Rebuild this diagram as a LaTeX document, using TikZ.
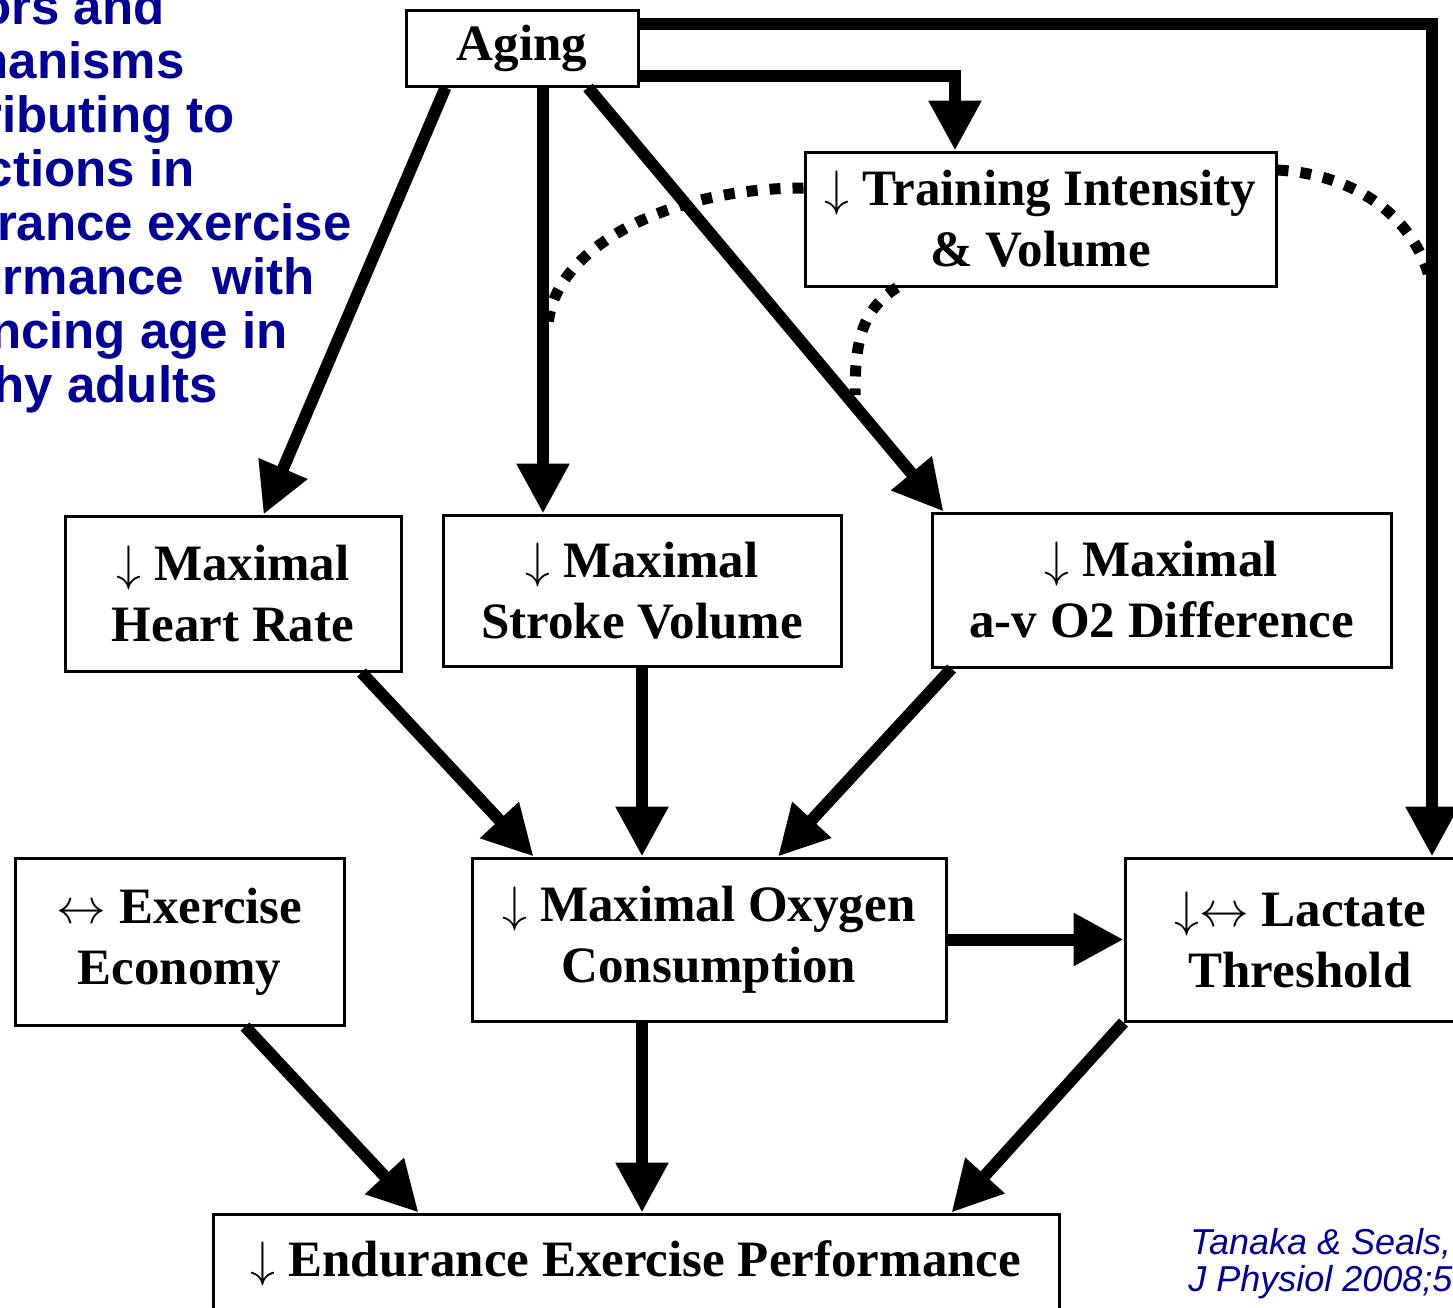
\documentclass[tikz,border=0pt]{standalone}
\usepackage{fontspec}
\setmainfont{Liberation Serif}
\newfontfamily\titlefont{Liberation Sans}
\usetikzlibrary{arrows.meta,positioning}
\definecolor{navyblue}{RGB}{0,0,153}
\newcommand{\arrdn}{$\downarrow$}
\newcommand{\arrlr}{$\leftrightarrow$}

\begin{document}
\begin{tikzpicture}[x=0.5pt, y=-0.5pt,
    box/.style={draw, line width=1.5pt, align=center, inner sep=0pt,
      font=\bfseries\fontsize{25.5}{30.5}\selectfont},
    flow/.style={line width=6pt, -{Triangle[length=25pt,width=25pt]}},
    dotline/.style={line width=5.5pt, dash pattern=on 5.5pt off 6pt},
    title line/.style={anchor=base east, inner sep=0pt, text=navyblue,
      font=\titlefont\bfseries\fontsize{25.5}{27}\selectfont},
    cite line/.style={anchor=base west, inner sep=0pt, text=navyblue,
      font=\titlefont\itshape\fontsize{18}{20}\selectfont}]
    \useasboundingbox (0,0) rectangle (1453,1308);

    % title, cut at the left edge
    \node[title line] (title1) at (165,24) {ors and};
    \node[title line] (title2) at (185,78) {hanisms};
    \node[title line] (title3) at (235,132) {ributing to};
    \node[title line] (title4) at (195,186) {ctions in};
    \node[title line] (title5) at (352,240) {rance exercise};
    \node[title line] (title6) at (315,294) {ormance\ \ with};
    \node[title line] (title7) at (288,348) {ncing age in};
    \node[title line] (title8) at (218,402) {hy adults};

    % citation
    \node[cite line] (cite1) at (1190,1254) {Tanaka \& Seals,};
    \node[cite line] (cite2) at (1188,1291) {J Physiol 2008;5};

    % boxes
    \node[box, minimum width=116pt, minimum height=38pt] (aging) at (522,48) {Aging};
    \node[box, minimum width=235.5pt, minimum height=67pt] (training) at (1040.5,219)
      {\arrdn\ Training Intensity\\ \& Volume};
    \node[box, minimum width=168pt, minimum height=77.5pt] (hr) at (233,593.5)
      {\arrdn\ Maximal\\ Heart Rate};
    \node[box, minimum width=199pt, minimum height=75.5pt] (sv) at (642,590.5)
      {\arrdn\ Maximal\\ Stroke Volume};
    \node[box, minimum width=229.5pt, minimum height=77pt] (avo) at (1161.5,590)
      {\arrdn\ Maximal\\ a-v O2 Difference};
    \node[box, minimum width=164.5pt, minimum height=83.5pt] (econ) at (179.5,941.5)
      {\arrlr\ Exercise\\ Economy};
    \node[box, minimum width=237pt, minimum height=81.5pt] (vo2) at (709,939.5)
      {\arrdn\ Maximal Oxygen\\ Consumption};
    \node[box, minimum width=175pt, minimum height=81.5pt] (lact) at (1300,939.5)
      {\arrdn\arrlr\ Lactate\\ Threshold};
    \node[box, minimum width=423pt, minimum height=49pt] (endur) at (636,1263)
      {\arrdn\ Endurance Exercise Performance};

    % arrows
    \draw[flow] ([yshift=12pt]aging.east) -| ([xshift=66pt]lact.north);
    \draw[flow] ([yshift=-14pt]aging.east) -| ([xshift=-42.75pt]training.north);
    \draw[flow] ([xshift=20.5pt]aging.south west) -- ([xshift=100pt]hr.north west);
    \draw[flow] ([xshift=10.5pt]aging.south) -- ([xshift=10.5pt]aging.south |- sv.north);
    \draw[flow] ([xshift=33pt]aging.south) -- ([xshift=6.5pt]avo.north west);
    \draw[flow] ([xshift=-20.5pt]hr.south east) -- ([xshift=31.5pt]vo2.north west);
    \draw[flow] (sv.south) -- (sv.south |- vo2.north);
    \draw[flow] ([xshift=10.5pt]avo.south west) -- ([xshift=34.5pt]vo2.north);
    \draw[flow] (vo2.east) -- (vo2.east -| lact.west);
    \draw[flow] ([xshift=32.75pt]econ.south) -- ([xshift=103.5pt]endur.north west);
    \draw[flow] ([xshift=-33.5pt]vo2.south) -- ([xshift=-33.5pt]vo2.south |- endur.north);
    \draw[flow] (lact.south west) -- ([xshift=-54.5pt]endur.north east);

    % dotted links from training
    \coordinate (svhit) at (548,330);
    \coordinate (avohit) at (855,395);
    \coordinate (lacthit) at (1430,280);
    \draw[dotline] ([yshift=15.5pt]training.west) .. controls (663,188) and (548,252) .. (svhit);
    \draw[dotline] ([xshift=-71.75pt]training.south) .. controls (862,310) and (855,340) .. (avohit);
    \draw[dotline] ([yshift=24.5pt]training.east) .. controls (1360,175) and (1415,220) .. (lacthit);
\end{tikzpicture}
\end{document}
